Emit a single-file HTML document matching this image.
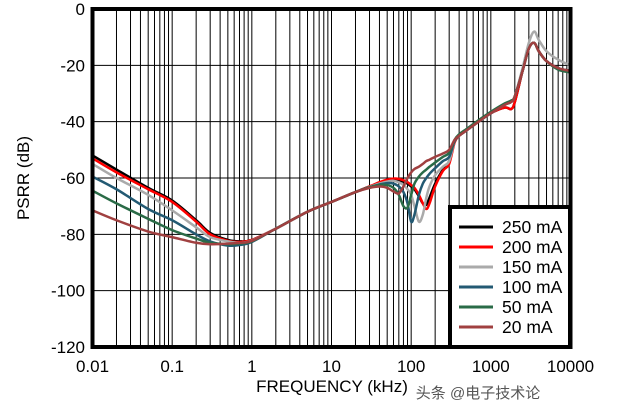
<!DOCTYPE html>
<html><head><meta charset="utf-8"><style>
html,body{margin:0;padding:0;background:#fff;}
svg{display:block;font-family:"Liberation Sans","Noto Sans CJK SC",sans-serif;}
</style></head><body>
<svg id="chart" width="617" height="409" viewBox="0 0 617 409">
<g id="grid"></g>
<g id="series"></g>
<rect x="92.5" y="9" width="478" height="338" fill="none" stroke="#000" stroke-width="4"/>
<g id="yticks" font-size="17" text-anchor="end"></g>
<g id="xticks" font-size="17" text-anchor="middle"></g>
<text x="332" y="392" font-size="17" text-anchor="middle">FREQUENCY (kHz)</text>
<text x="0" y="0" font-size="17" text-anchor="middle" transform="translate(29,178) rotate(-90)">PSRR (dB)</text>
<g>
<rect x="450" y="207" width="120" height="140" fill="#fff" stroke="#000" stroke-width="4"/>
<g id="legend-items"></g>
</g>
<text x="478" y="398" font-size="15" fill="#555" text-anchor="middle">头条 @电子技术论</text>
</svg>
<script>
const freqs=[0.01,0.02,0.05,0.1,0.2,0.3,0.5,0.7,1,2,5,10,20,30,40,50,60,70,80,90,100,110,125,140,155,170,200,250,300,350,400,500,700,1000,1500,1800,2000,2500,3000,3500,4000,5000,7000,10000];
const seriesNames=["250 mA","200 mA","150 mA","100 mA","50 mA","20 mA"];
const seriesColors=["#000000","#ff0000","#aaaaaa","#235a73","#2a6b47","#a04040"];
const s250=[-52,-57,-63.5,-68,-75,-79.5,-82,-82.5,-82,-78,-72,-68.5,-65,-63,-61.8,-61,-60.6,-60.8,-61.3,-62,-63,-64,-66.5,-69,-69.5,-67,-62,-57,-54,-47,-45,-43,-40,-37,-35,-35.5,-33,-22,-14,-12,-15,-18.5,-21,-22];
const s200=[-53,-58,-64,-68.5,-75.5,-80,-82.3,-82.7,-82,-78,-72,-68.5,-65,-63,-61.5,-60.6,-60.2,-60.3,-60.8,-61.5,-62.5,-63.5,-66,-69,-71,-69,-63,-57.5,-55,-47.5,-45,-43,-40,-37,-35,-35.5,-33,-22,-14,-12,-15,-18.5,-21,-22];
const s150=[-55,-60,-66,-71.5,-77.5,-81,-82.5,-83,-82.2,-78,-72,-68.5,-65,-63.2,-62,-61.3,-61,-61.5,-62.5,-64,-66,-70,-75.5,-73,-67,-63,-59,-56,-54,-47,-45,-43,-40,-37,-34,-33,-31,-21,-12,-8,-11,-15,-18,-20];
const s100=[-59.5,-64,-71,-75,-80,-82.5,-84,-83.8,-82.7,-78,-72,-68.5,-65,-63.3,-62.3,-61.8,-62,-63,-65,-69,-75.5,-73,-66,-62,-60,-58.5,-56.5,-54,-52.5,-47,-45,-43,-40,-37,-34,-33,-31,-22,-14,-12,-15,-18.5,-21,-22];
const s50=[-64.5,-69,-74.5,-78.5,-81.5,-83,-83.5,-83.3,-82.5,-78,-72,-68.5,-65,-63.3,-62.5,-62.5,-63.5,-66,-70,-70.5,-66,-62,-59.5,-58,-57,-56,-54.5,-52.5,-51,-46.5,-44.5,-42.5,-39.5,-36.5,-33.5,-32.5,-31,-22,-14,-12,-15,-18.5,-21.5,-22.5];
const s20=[-71.5,-75,-79,-81,-83,-83.5,-83.3,-83,-82.3,-78,-72,-68.5,-65,-63.5,-63,-63.5,-64.8,-65.5,-63,-60,-58,-56.8,-56,-55,-54,-53.5,-52.5,-51.3,-50,-46.5,-45,-43,-40,-37,-34,-33,-31,-22,-14,-12,-15,-18.5,-21,-22];
const seriesValues=[s250,s200,s150,s100,s50,s20];
const yTicks=[0,-20,-40,-60,-80,-100,-120];
const xTicks=[0.01,0.1,1,10,100,1000,10000];
const xTickLabels=["0.01","0.1","1","10","100","1000","10000"];

const NS="http://www.w3.org/2000/svg";
const X0=92.5,X1=570.5,Y0=9,Y1=347;
function xs(f){return X0+(Math.log10(f)+2)/6*(X1-X0);}
function ys(v){return Y0+(0-v)/120*(Y1-Y0);}
function mk(t,a){const e=document.createElementNS(NS,t);for(const k in a)e.setAttribute(k,a[k]);return e;}

const grid=document.getElementById('grid');
for(let d=-2;d<4;d++){for(let m=1;m<=9;m++){const f=m*Math.pow(10,d);if(m===1&&d===-2)continue;
 const l=mk('line',{x1:xs(f),x2:xs(f),y1:Y0,y2:Y1,stroke:'#000','stroke-width':1});
 
 
 grid.appendChild(l);}}
yTicks.forEach(v=>{const l=mk('line',{x1:X0,x2:X1,y1:ys(v),y2:ys(v),stroke:'#000','stroke-width':1});
 
 
 grid.appendChild(l);});

const yt=document.getElementById('yticks');
yTicks.forEach(v=>{const t=mk('text',{x:85,y:ys(v)+6});t.textContent=String(v);
 
 
 yt.appendChild(t);});
const xt=document.getElementById('xticks');
xTicks.forEach((f,i)=>{const t=mk('text',{x:xs(f),y:372});t.textContent=xTickLabels[i];
 
 
 xt.appendChild(t);});

function pathFor(vals){
 const p=freqs.map((f,i)=>[xs(f),ys(vals[i])]);
 let d='M'+p[0][0]+','+p[0][1];
 for(let i=0;i<p.length-1;i++){
  const p0=p[i-1]||p[i],p1=p[i],p2=p[i+1],p3=p[i+2]||p2;
  const c1=[p1[0]+(p2[0]-p0[0])/6,p1[1]+(p2[1]-p0[1])/6];
  const c2=[p2[0]-(p3[0]-p1[0])/6,p2[1]-(p3[1]-p1[1])/6];
  d+=' C'+c1[0]+','+c1[1]+' '+c2[0]+','+c2[1]+' '+p2[0]+','+p2[1];
 }
 return d;
}
const sg=document.getElementById('series');
const clip=mk('clipPath',{id:'pc'});clip.appendChild(mk('rect',{x:X0,y:Y0,width:X1-X0,height:Y1-Y0}));
sg.appendChild(clip);
sg.setAttribute('clip-path','url(#pc)');
for(let i=0;i<seriesValues.length;i++){
 const pth=mk('path',{d:pathFor(seriesValues[i]),fill:'none',stroke:seriesColors[i],'stroke-width':2.5,'stroke-linejoin':'round'});
 
 
 sg.appendChild(pth);
}
const lg=document.getElementById('legend-items');
seriesNames.forEach((n,i)=>{const y=227+i*20;
 const l=mk('line',{x1:459,x2:493,y1:y,y2:y,stroke:seriesColors[i],'stroke-width':3});
 
 
 lg.appendChild(l);
 const t=mk('text',{x:502,y:y+6,'font-size':17.5});t.textContent=n;
 
 
 lg.appendChild(t);});
</script>
</body></html>
